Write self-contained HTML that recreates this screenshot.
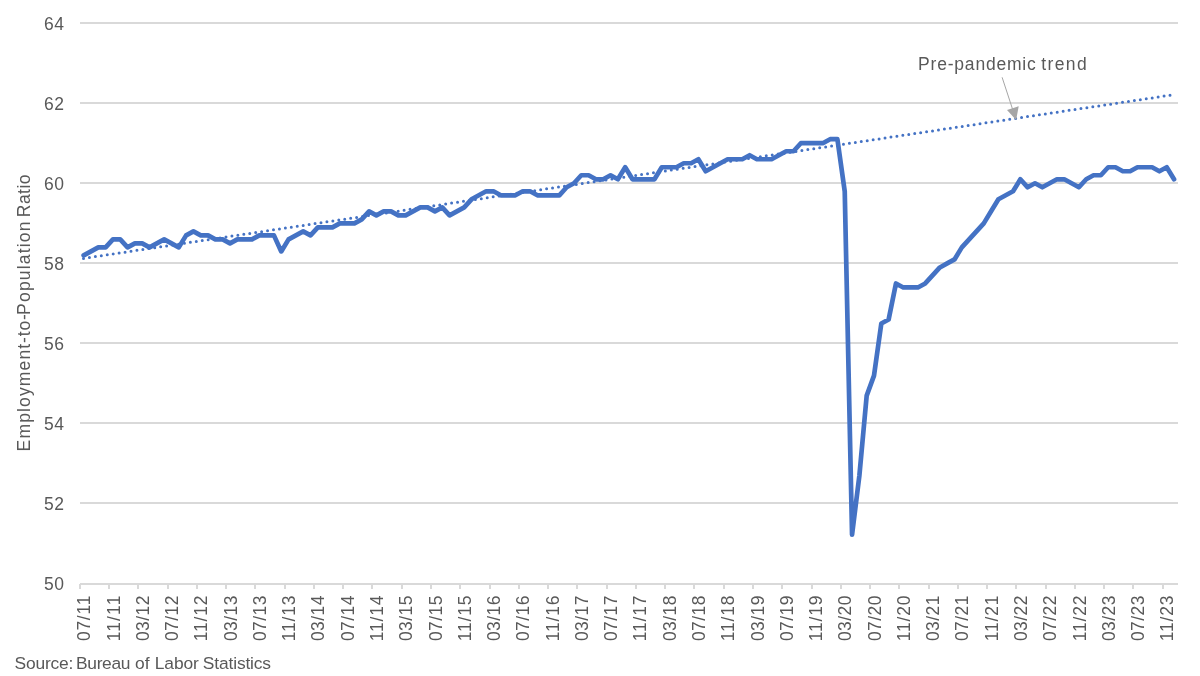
<!DOCTYPE html>
<html lang="en"><head><meta charset="utf-8"><title>Employment-to-Population Ratio</title>
<style>html,body{margin:0;padding:0;background:#fff}body{width:1200px;height:676px;overflow:hidden}svg{display:block}text{font-family:"Liberation Sans",sans-serif;fill:#595959}</style></head><body>
<svg width="1200" height="676" viewBox="0 0 1200 676">
<rect width="1200" height="676" fill="#fff"/>
<g stroke="#D9D9D9" stroke-width="2" fill="none">
<line x1="80.0" y1="584.00" x2="1178.0" y2="584.00"/>
<line x1="80.0" y1="503.00" x2="1178.0" y2="503.00"/>
<line x1="80.0" y1="423.00" x2="1178.0" y2="423.00"/>
<line x1="80.0" y1="343.00" x2="1178.0" y2="343.00"/>
<line x1="80.0" y1="263.00" x2="1178.0" y2="263.00"/>
<line x1="80.0" y1="183.00" x2="1178.0" y2="183.00"/>
<line x1="80.0" y1="103.00" x2="1178.0" y2="103.00"/>
<line x1="80.0" y1="23.00" x2="1178.0" y2="23.00"/>
<line x1="80" y1="584.0" x2="80" y2="589.0"/>
<line x1="109" y1="584.0" x2="109" y2="589.0"/>
<line x1="138" y1="584.0" x2="138" y2="589.0"/>
<line x1="168" y1="584.0" x2="168" y2="589.0"/>
<line x1="197" y1="584.0" x2="197" y2="589.0"/>
<line x1="226" y1="584.0" x2="226" y2="589.0"/>
<line x1="255" y1="584.0" x2="255" y2="589.0"/>
<line x1="285" y1="584.0" x2="285" y2="589.0"/>
<line x1="314" y1="584.0" x2="314" y2="589.0"/>
<line x1="343" y1="584.0" x2="343" y2="589.0"/>
<line x1="372" y1="584.0" x2="372" y2="589.0"/>
<line x1="402" y1="584.0" x2="402" y2="589.0"/>
<line x1="431" y1="584.0" x2="431" y2="589.0"/>
<line x1="460" y1="584.0" x2="460" y2="589.0"/>
<line x1="490" y1="584.0" x2="490" y2="589.0"/>
<line x1="519" y1="584.0" x2="519" y2="589.0"/>
<line x1="548" y1="584.0" x2="548" y2="589.0"/>
<line x1="577" y1="584.0" x2="577" y2="589.0"/>
<line x1="607" y1="584.0" x2="607" y2="589.0"/>
<line x1="636" y1="584.0" x2="636" y2="589.0"/>
<line x1="665" y1="584.0" x2="665" y2="589.0"/>
<line x1="694" y1="584.0" x2="694" y2="589.0"/>
<line x1="724" y1="584.0" x2="724" y2="589.0"/>
<line x1="753" y1="584.0" x2="753" y2="589.0"/>
<line x1="782" y1="584.0" x2="782" y2="589.0"/>
<line x1="812" y1="584.0" x2="812" y2="589.0"/>
<line x1="841" y1="584.0" x2="841" y2="589.0"/>
<line x1="870" y1="584.0" x2="870" y2="589.0"/>
<line x1="899" y1="584.0" x2="899" y2="589.0"/>
<line x1="929" y1="584.0" x2="929" y2="589.0"/>
<line x1="958" y1="584.0" x2="958" y2="589.0"/>
<line x1="987" y1="584.0" x2="987" y2="589.0"/>
<line x1="1016" y1="584.0" x2="1016" y2="589.0"/>
<line x1="1046" y1="584.0" x2="1046" y2="589.0"/>
<line x1="1075" y1="584.0" x2="1075" y2="589.0"/>
<line x1="1104" y1="584.0" x2="1104" y2="589.0"/>
<line x1="1133" y1="584.0" x2="1133" y2="589.0"/>
<line x1="1163" y1="584.0" x2="1163" y2="589.0"/>
</g>
<line x1="83.5" y1="258.4" x2="1170.1" y2="95.2" stroke="#4472C4" stroke-width="3" stroke-linecap="round" stroke-dasharray="0 6.0038"/>
<polyline points="83.66,255.41 90.98,251.41 98.30,247.40 105.61,247.40 112.93,239.39 120.25,239.39 127.57,247.40 134.88,243.39 142.20,243.39 149.52,247.40 156.84,243.39 164.16,239.39 171.48,243.39 178.79,247.40 186.11,235.38 193.43,231.37 200.75,235.38 208.06,235.38 215.38,239.39 222.70,239.39 230.02,243.39 237.34,239.39 244.66,239.39 251.97,239.39 259.29,235.38 266.61,235.38 273.93,235.38 281.25,251.41 288.56,239.39 295.88,235.38 303.20,231.37 310.52,235.38 317.84,227.36 325.15,227.36 332.47,227.36 339.79,223.36 347.11,223.36 354.43,223.36 361.74,219.35 369.06,211.34 376.38,215.34 383.70,211.34 391.02,211.34 398.33,215.34 405.65,215.34 412.97,211.34 420.29,207.33 427.61,207.33 434.92,211.34 442.24,207.33 449.56,215.34 456.88,211.34 464.20,207.33 471.51,199.31 478.83,195.31 486.15,191.30 493.47,191.30 500.79,195.31 508.10,195.31 515.42,195.31 522.74,191.30 530.06,191.30 537.38,195.31 544.69,195.31 552.01,195.31 559.33,195.31 566.65,187.29 573.97,183.29 581.28,175.27 588.60,175.27 595.92,179.28 603.24,179.28 610.56,175.27 617.87,179.28 625.19,167.26 632.51,179.28 639.83,179.28 647.15,179.28 654.46,179.28 661.78,167.26 669.10,167.26 676.42,167.26 683.74,163.25 691.05,163.25 698.37,159.24 705.69,171.26 713.01,167.26 720.33,163.25 727.64,159.24 734.96,159.24 742.28,159.24 749.60,155.24 756.92,159.24 764.23,159.24 771.55,159.24 778.87,155.24 786.19,151.23 793.50,151.23 800.82,143.21 808.14,143.21 815.46,143.21 822.78,143.21 830.10,139.21 837.41,139.21 844.73,191.30 852.05,534.71 859.37,475.81 866.69,395.66 874.00,375.63 881.32,323.54 888.64,319.53 895.96,283.46 903.28,287.47 910.59,287.47 917.91,287.47 925.23,283.46 932.55,275.45 939.87,267.44 947.18,263.43 954.50,259.42 961.82,247.40 969.14,239.39 976.46,231.37 983.77,223.36 991.09,211.34 998.41,199.31 1005.73,195.31 1013.05,191.30 1020.36,179.28 1027.68,187.29 1035.00,183.29 1042.32,187.29 1049.64,183.29 1056.95,179.28 1064.27,179.28 1071.59,183.29 1078.91,187.29 1086.22,179.28 1093.54,175.27 1100.86,175.27 1108.18,167.26 1115.50,167.26 1122.82,171.26 1130.13,171.26 1137.45,167.26 1144.77,167.26 1152.09,167.26 1159.40,171.26 1166.72,167.26 1174.04,179.28" fill="none" stroke="#4472C4" stroke-width="4.7" stroke-linejoin="round" stroke-linecap="round"/>
<line x1="1002.1" y1="77.3" x2="1012.5" y2="109" stroke="#A6A6A6" stroke-width="1"/>
<polygon points="1016.1,119.9 1007,110 1018.7,106.2" fill="#A6A6A6"/>
<g opacity="0.999">
<g font-size="17.5" text-anchor="end">
<text x="63.9" y="589.55" textLength="19.9" lengthAdjust="spacing">50</text>
<text x="63.9" y="509.55" textLength="19.9" lengthAdjust="spacing">52</text>
<text x="63.9" y="429.55" textLength="19.9" lengthAdjust="spacing">54</text>
<text x="63.9" y="349.55" textLength="19.9" lengthAdjust="spacing">56</text>
<text x="63.9" y="269.55" textLength="19.9" lengthAdjust="spacing">58</text>
<text x="63.9" y="189.55" textLength="19.9" lengthAdjust="spacing">60</text>
<text x="63.9" y="109.55" textLength="19.9" lengthAdjust="spacing">62</text>
<text x="63.9" y="29.55" textLength="19.9" lengthAdjust="spacing">64</text>
</g>
<g font-size="17.5" text-anchor="end">
<text transform="translate(90.26,595.6) rotate(-90)" textLength="45.5" lengthAdjust="spacing">07/11</text>
<text transform="translate(119.53,595.6) rotate(-90)" textLength="45.7" lengthAdjust="spacing">11/11</text>
<text transform="translate(148.80,595.6) rotate(-90)" textLength="45.5" lengthAdjust="spacing">03/12</text>
<text transform="translate(178.08,595.6) rotate(-90)" textLength="45.5" lengthAdjust="spacing">07/12</text>
<text transform="translate(207.35,595.6) rotate(-90)" textLength="45.7" lengthAdjust="spacing">11/12</text>
<text transform="translate(236.62,595.6) rotate(-90)" textLength="45.5" lengthAdjust="spacing">03/13</text>
<text transform="translate(265.89,595.6) rotate(-90)" textLength="45.5" lengthAdjust="spacing">07/13</text>
<text transform="translate(295.16,595.6) rotate(-90)" textLength="45.7" lengthAdjust="spacing">11/13</text>
<text transform="translate(324.44,595.6) rotate(-90)" textLength="45.5" lengthAdjust="spacing">03/14</text>
<text transform="translate(353.71,595.6) rotate(-90)" textLength="45.5" lengthAdjust="spacing">07/14</text>
<text transform="translate(382.98,595.6) rotate(-90)" textLength="45.7" lengthAdjust="spacing">11/14</text>
<text transform="translate(412.25,595.6) rotate(-90)" textLength="45.5" lengthAdjust="spacing">03/15</text>
<text transform="translate(441.52,595.6) rotate(-90)" textLength="45.5" lengthAdjust="spacing">07/15</text>
<text transform="translate(470.80,595.6) rotate(-90)" textLength="45.7" lengthAdjust="spacing">11/15</text>
<text transform="translate(500.07,595.6) rotate(-90)" textLength="45.5" lengthAdjust="spacing">03/16</text>
<text transform="translate(529.34,595.6) rotate(-90)" textLength="45.5" lengthAdjust="spacing">07/16</text>
<text transform="translate(558.61,595.6) rotate(-90)" textLength="45.7" lengthAdjust="spacing">11/16</text>
<text transform="translate(587.88,595.6) rotate(-90)" textLength="45.5" lengthAdjust="spacing">03/17</text>
<text transform="translate(617.16,595.6) rotate(-90)" textLength="45.5" lengthAdjust="spacing">07/17</text>
<text transform="translate(646.43,595.6) rotate(-90)" textLength="45.7" lengthAdjust="spacing">11/17</text>
<text transform="translate(675.70,595.6) rotate(-90)" textLength="45.5" lengthAdjust="spacing">03/18</text>
<text transform="translate(704.97,595.6) rotate(-90)" textLength="45.5" lengthAdjust="spacing">07/18</text>
<text transform="translate(734.24,595.6) rotate(-90)" textLength="45.7" lengthAdjust="spacing">11/18</text>
<text transform="translate(763.52,595.6) rotate(-90)" textLength="45.5" lengthAdjust="spacing">03/19</text>
<text transform="translate(792.79,595.6) rotate(-90)" textLength="45.5" lengthAdjust="spacing">07/19</text>
<text transform="translate(822.06,595.6) rotate(-90)" textLength="45.7" lengthAdjust="spacing">11/19</text>
<text transform="translate(851.33,595.6) rotate(-90)" textLength="45.5" lengthAdjust="spacing">03/20</text>
<text transform="translate(880.60,595.6) rotate(-90)" textLength="45.5" lengthAdjust="spacing">07/20</text>
<text transform="translate(909.88,595.6) rotate(-90)" textLength="45.7" lengthAdjust="spacing">11/20</text>
<text transform="translate(939.15,595.6) rotate(-90)" textLength="45.5" lengthAdjust="spacing">03/21</text>
<text transform="translate(968.42,595.6) rotate(-90)" textLength="45.5" lengthAdjust="spacing">07/21</text>
<text transform="translate(997.69,595.6) rotate(-90)" textLength="45.7" lengthAdjust="spacing">11/21</text>
<text transform="translate(1026.96,595.6) rotate(-90)" textLength="45.5" lengthAdjust="spacing">03/22</text>
<text transform="translate(1056.24,595.6) rotate(-90)" textLength="45.5" lengthAdjust="spacing">07/22</text>
<text transform="translate(1085.51,595.6) rotate(-90)" textLength="45.7" lengthAdjust="spacing">11/22</text>
<text transform="translate(1114.78,595.6) rotate(-90)" textLength="45.5" lengthAdjust="spacing">03/23</text>
<text transform="translate(1144.05,595.6) rotate(-90)" textLength="45.5" lengthAdjust="spacing">07/23</text>
<text transform="translate(1173.32,595.6) rotate(-90)" textLength="45.7" lengthAdjust="spacing">11/23</text>
</g>
<text y="70" font-size="17.5"><tspan x="918.02" textLength="117.79" lengthAdjust="spacing">Pre-pandemic</tspan> <tspan x="1041.14" textLength="45.6" lengthAdjust="spacing">trend</tspan></text>
<text transform="translate(30,0) rotate(-90)" font-size="17.5"><tspan x="-451.4" textLength="107.6" lengthAdjust="spacing">Employment</tspan><tspan x="-343.1" textLength="29.02" lengthAdjust="spacing">-to-</tspan><tspan x="-314.9" textLength="93.4" lengthAdjust="spacing">Population</tspan> <tspan x="-217.2" textLength="42.7" lengthAdjust="spacing">Ratio</tspan></text>
<text y="668.7" font-size="17.4"><tspan x="14.62" textLength="58.78" lengthAdjust="spacing">Source:</tspan> <tspan x="76.1" textLength="54.32" lengthAdjust="spacing">Bureau</tspan> <tspan x="134.88" textLength="14.69" lengthAdjust="spacing">of</tspan> <tspan x="154.82" textLength="43.97" lengthAdjust="spacing">Labor</tspan> <tspan x="202.87" textLength="68.18" lengthAdjust="spacing">Statistics</tspan></text>
</g>
</svg></body></html>
